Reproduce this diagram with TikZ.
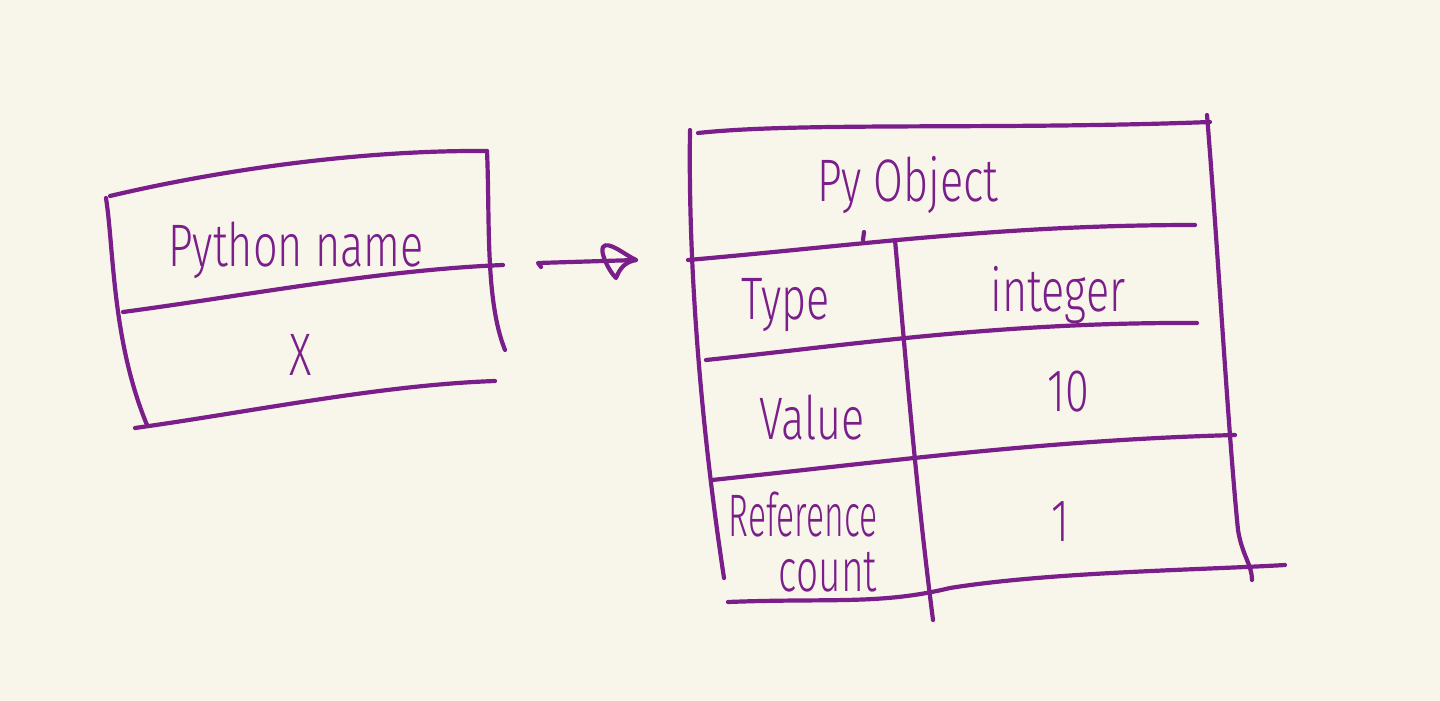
\documentclass[tikz,border=0pt]{standalone}
\usepackage{graphicx}
\usepackage{fontspec}
\setmainfont[FakeStretch=0.72]{Fira Sans Light}
\definecolor{paper}{HTML}{F8F5EA}
\definecolor{ink}{HTML}{7A1E8A}
\begin{document}
\begin{tikzpicture}[x=0.5pt,y=-0.5pt,
  pen/.style={draw=ink,line width=2.1pt,line cap=round,line join=round},
  hand/.style={text=ink,font=\fontsize{30}{33}\selectfont,inner sep=0pt}]
\fill[paper] (0,0) rectangle (1440,701);
\useasboundingbox (0,0) rectangle (1440,701);
% left box
\draw[pen] (110,196) .. controls (220,170) and (360,150) .. (487,151);
\draw[pen] (487,151) .. controls (490,220) and (485,300) .. (505,350);
\draw[pen] (106,198) .. controls (114,250) and (112,340) .. (147,425);
\draw[pen] (123,312) .. controls (250,295) and (380,270) .. (503,265);
\draw[pen] (135,428) .. controls (250,412) and (380,385) .. (495,381);
\node[hand] (pyname) at (296,250) {Python name};
\node[hand] (xname) at (301,355) {X};
% arrow
\coordinate (arrowstart) at (538,263);
\coordinate (arrowend) at (636,260);
\draw[pen] (541,267) -- (538,263) -- (arrowend);
\draw[pen] (603,247) .. controls (608,240) and (625,255) .. (arrowend) .. controls (625,262) and (620,268) .. (616,278) .. controls (608,270) and (600,252) .. (603,247);
% right table
\draw[pen] (698,133) .. controls (800,122) and (1000,130) .. (1210,122);
\draw[pen] (1207,115) .. controls (1218,250) and (1228,430) .. (1238,530) .. controls (1242,555) and (1252,565) .. (1252,580);
\draw[pen] (690,130) .. controls (688,260) and (700,420) .. (724,578);
\draw[pen] (688,260) .. controls (860,245) and (1000,225) .. (1195,225);
\draw[pen] (863,240) -- (864,232);
\draw[pen] (895,240) .. controls (905,350) and (915,480) .. (933,620);
\draw[pen] (706,360) .. controls (850,345) and (1000,322) .. (1197,323);
\draw[pen] (712,480) .. controls (900,460) and (1050,440) .. (1235,435);
\draw[pen] (728,602) .. controls (830,598) and (880,605) .. (950,588) .. controls (1050,572) and (1200,570) .. (1285,565);
\node[hand] (pyobj) at (908,185) {Py Object};
\node[hand] (typek) at (786,305) {Type};
\node[hand] (typev) at (1058,295) {integer};
\node[hand] (valk) at (812,418) {Value};
\node[hand] (valv) at (1068,392) {10};
\node[hand] (refk) at (803,515) {\scalebox{0.78}[1]{Reference}};
\node[hand] (refk2) at (828,572) {\scalebox{0.9}[1]{count}};
\node[hand] (refv) at (1060,522) {1};
\end{tikzpicture}
\end{document}
